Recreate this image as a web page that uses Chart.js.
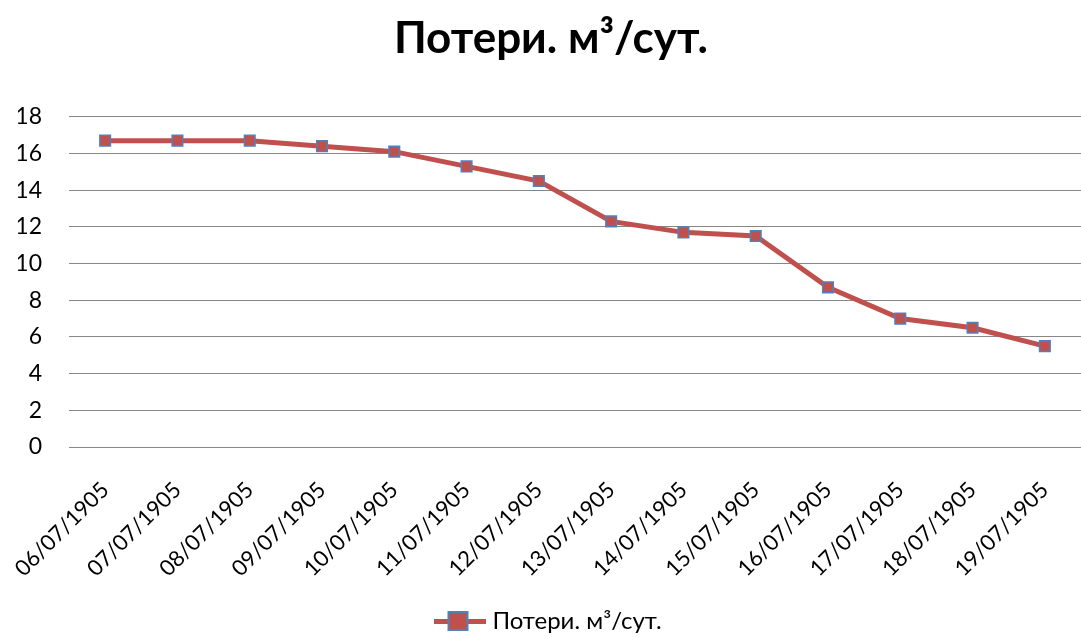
<!DOCTYPE html>
<html>
<head>
<meta charset="utf-8">
<script src="https://cdn.jsdelivr.net/npm/chart.js@4/dist/chart.umd.min.js"></script>
<style>
  html, body { margin: 0; padding: 0; background: #fff; }
  #wrap { width: 1081px; height: 638px; }
</style>
</head>
<body>
<div id="wrap"><canvas id="lossChart" width="1081" height="638"></canvas></div>
<script>
const seriesName = 'Потери. м³/сут.';
const dates = ['06/07/1905', '07/07/1905', '08/07/1905', '09/07/1905', '10/07/1905', '11/07/1905', '12/07/1905',
  '13/07/1905', '14/07/1905', '15/07/1905', '16/07/1905', '17/07/1905', '18/07/1905', '19/07/1905'];
const losses = [16.7, 16.7, 16.7, 16.4, 16.1, 15.3, 14.5, 12.3, 11.7, 11.5, 8.7, 7.0, 6.5, 5.5];
const yTicks = [0, 2, 4, 6, 8, 10, 12, 14, 16, 18];

const FONT = 'Lato, "Noto Sans", sans-serif';
const lineColor = '#C0504D';
const markerBorder = '#4F81BD';

// legend symbol: line with a square marker on it
const legendIcon = document.createElement('canvas');
legendIcon.width = 52; legendIcon.height = 20;
(() => {
  const c = legendIcon.getContext('2d');
  c.fillStyle = lineColor;
  c.fillRect(0, 8, 52, 5);
  c.fillRect(14, 1, 19, 18);
  c.strokeStyle = markerBorder;
  c.lineWidth = 2;
  c.strokeRect(14, 1, 19, 18);
})();

new Chart(document.getElementById('lossChart'), {
  type: 'line',
  data: {
    labels: dates,
    datasets: [{
      label: seriesName,
      data: losses,
      borderColor: lineColor,
      borderWidth: 5,
      backgroundColor: lineColor,
      pointStyle: 'rect',
      pointRadius: 7.5,
      pointBackgroundColor: lineColor,
      pointBorderColor: markerBorder,
      pointBorderWidth: 1.5,
      tension: 0
    }]
  },
  options: {
    responsive: false,
    animation: false,
    layout: { autoPadding: false, padding: { left: 18, right: -3, top: 0, bottom: -5 } },
    plugins: {
      title: {
        display: true,
        text: seriesName,
        color: '#000',
        font: { family: FONT, size: 44, weight: 'bold' },
        padding: { top: 12, bottom: 52 }
      },
      legend: {
        position: 'bottom',
        labels: {
          color: '#000',
          font: { family: FONT, size: 24 },
          usePointStyle: true,
          pointStyleWidth: 40,
          padding: 0,
          generateLabels: chart => Chart.defaults.plugins.legend.labels.generateLabels(chart)
            .map(item => Object.assign(item, { pointStyle: legendIcon }))
        }
      },
      tooltip: { enabled: false }
    },
    scales: {
      x: {
        offset: true,
        afterFit: scale => {
          scale.height = 162;
          scale.paddingLeft = 0;
          scale.paddingRight = 0;
        },
        grid: { display: false },
        border: { display: true, color: '#878787', width: 1 },
        ticks: {
          color: '#000',
          font: { family: FONT, size: 22 },
          minRotation: 45,
          maxRotation: 45,
          padding: 22,
          autoSkip: false
        }
      },
      y: {
        min: 0,
        max: 18,
        afterFit: scale => { scale.width = 51; },
        afterBuildTicks: scale => { scale.ticks = yTicks.map(v => ({ value: v })); },
        grid: { color: '#878787', lineWidth: 1, drawTicks: false },
        border: { display: false },
        ticks: {
          color: '#000',
          font: { family: FONT, size: 23 },
          padding: 27
        }
      }
    }
  }
});
</script>
</body>
</html>
